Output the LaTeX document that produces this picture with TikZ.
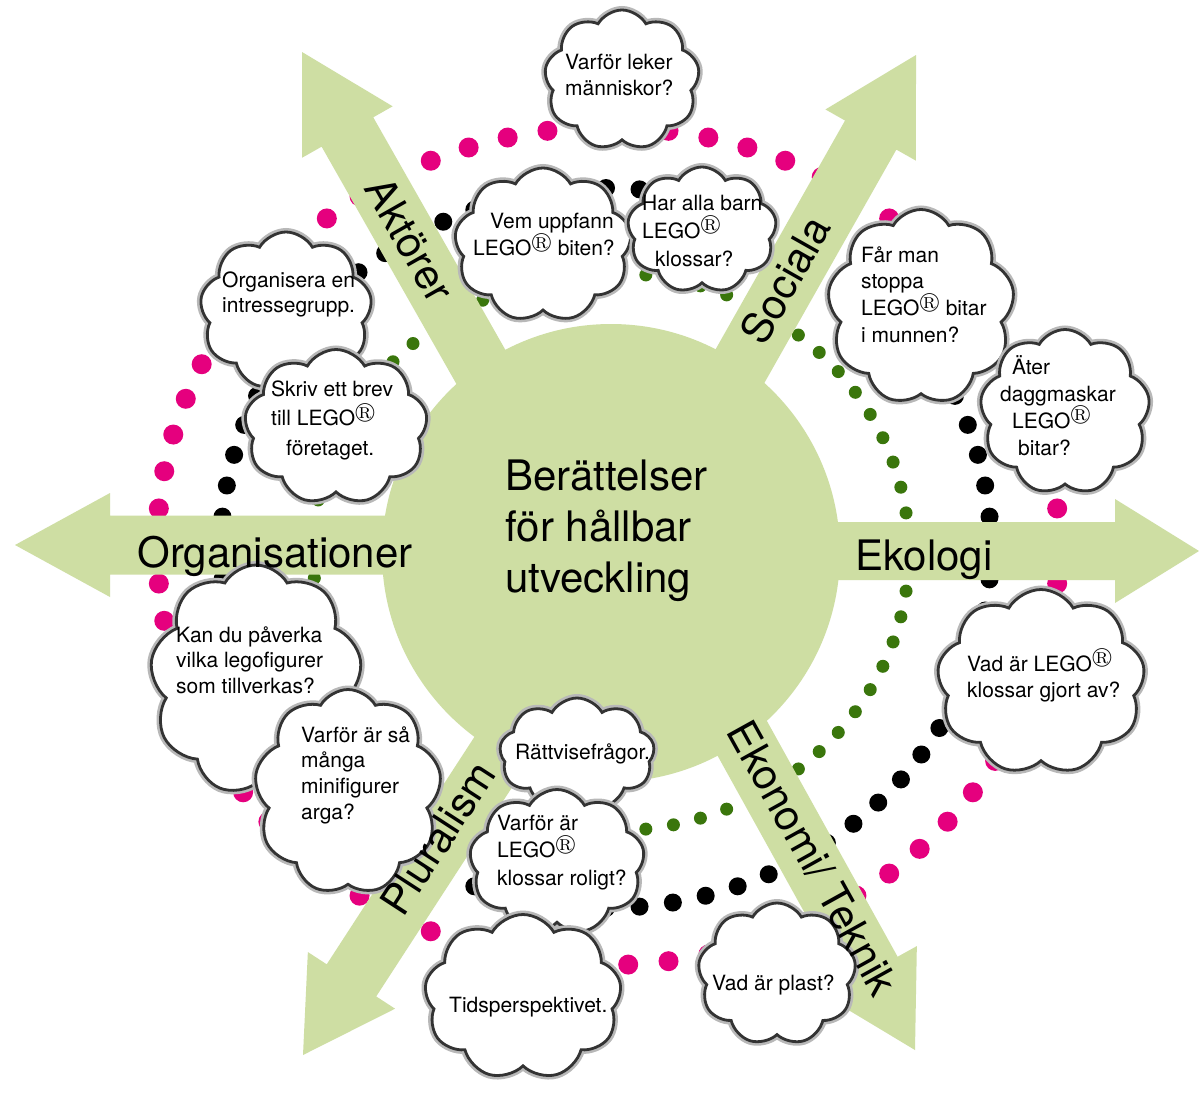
\documentclass[tikz,border=0pt]{standalone}
\usepackage{fontspec}
\setmainfont{TeX Gyre Heros}
\usepackage{amssymb}
\usetikzlibrary{shapes.symbols,shadows}
\definecolor{leaf}{RGB}{206,222,163}
\definecolor{pinkdot}{RGB}{229,0,126}
\definecolor{greendot}{RGB}{58,118,12}
\newcommand{\lego}{LEGO$^{\circledR}$}
\newcommand{\greenarrow}[7]{%
  \fill[leaf, shift={(#1,#2)}, rotate=#3] (0,0) -- (-#4,#5) -- (-#4,#6) -- (-#7,#6)
    -- (-#7,-#6) -- (-#4,-#6) -- (-#4,-#5) -- cycle;}
\begin{document}
\begin{tikzpicture}[x=1pt,y=-1pt,
  cloudbox/.style={cloud, cloud puffs=9, cloud puff arc=120, cloud ignores aspect,
    inner sep=0pt, fill=white, draw=black!80, line width=2.8pt,
    general shadow={shadow xshift=-1.5pt, shadow yshift=-3pt, fill=black!55},
    preaction={draw=black!28, line width=8pt}},
  qtext/.style={font=\fontsize{21}{26}\selectfont, align=left, inner sep=0pt, anchor=north west},
  lbl/.style={font=\fontsize{42}{50}\selectfont, inner sep=0pt},
  hubtext/.style={font=\fontsize{42}{51}\selectfont, align=left, inner sep=0pt, anchor=north west}]
\useasboundingbox (0,0) rectangle (1199,1093);
\fill[white] (0,0) rectangle (1199,1093);
% dotted rings
\foreach \i in {0,...,69}
  \fill[pinkdot] ({608+451*cos(5.142857*\i)},{546+419*sin(5.142857*\i)}) circle[radius=10pt];
\foreach \i in {0,...,71}
  \fill[black] ({606+385*cos(5*\i)},{548+360*sin(5*\i)}) circle[radius=9pt];
\foreach \i in {0,...,66}
  \fill[greendot] ({611+298*cos(5.373134*(\i+0.5))},{552+279*sin(5.373134*(\i+0.5))}) circle[radius=6.5pt];
% arrows and hub
\greenarrow{15}{545}{180}{95}{52}{29.5}{500}
\greenarrow{1199}{551}{0}{84}{52}{29}{500}
\greenarrow{302}{52}{119.6}{92}{52}{29.7}{450}
\greenarrow{916}{55}{60.5}{92}{52}{29.5}{450}
\greenarrow{303}{1055}{237}{89}{52}{29.5}{450}
\greenarrow{915}{1050}{-61}{90}{52}{30}{450}
\node[circle, fill=leaf, minimum size=458pt, inner sep=0pt] (hub) at (611,553) {};
% clouds
\node[cloudbox, minimum width=155pt, minimum height=140pt] (c1) at (622,80) {};
\node[cloudbox, minimum width=177pt, minimum height=154pt] (c2) at (543,245) {};
\node[cloudbox, minimum width=149pt, minimum height=126pt] (c3) at (702,230) {};
\node[cloudbox, minimum width=172pt, minimum height=158pt] (c4) at (286,311) {};
\node[cloudbox, minimum width=183pt, minimum height=155pt] (c5) at (336,427) {};
\node[cloudbox, minimum width=187pt, minimum height=195pt] (c6) at (921,307) {};
\node[cloudbox, minimum width=170pt, minimum height=165pt] (c7) at (1065,412) {};
\node[cloudbox, minimum width=208pt, minimum height=185pt] (c8) at (1041,682) {};
\node[cloudbox, minimum width=212pt, minimum height=230pt] (c9) at (256,680) {};
\node[cloudbox, minimum width=187pt, minimum height=205pt] (c10) at (348,792) {};
\node[cloudbox, minimum width=155pt, minimum height=112pt] (c11) at (577,754) {};
\node[cloudbox, minimum width=175pt, minimum height=145pt] (c12) at (557,862) {};
\node[cloudbox, minimum width=197pt, minimum height=165pt] (c13) at (523,997) {};
\node[cloudbox, minimum width=158pt, minimum height=142pt] (c14) at (777,974) {};
% cloud texts
\node[qtext] (q1) at (565,49) {\rule{0pt}{20pt}Varför leker\\människor?};
\node[qtext] (q2) at (473,208) {\rule{0pt}{20pt}\hspace*{17pt}Vem uppfann\\\lego{} biten?};
\node[qtext, font=\fontsize{21}{28}\selectfont] (q3) at (642,190) {\rule{0pt}{20pt}Har alla barn\\\lego\\\hspace*{13pt}klossar?};
\node[qtext, font=\fontsize{21}{25}\selectfont] (q4) at (222,267) {\rule{0pt}{20pt}Organisera en\\intressegrupp.};
\node[qtext, font=\fontsize{21}{29.5}\selectfont] (q5) at (271,376) {\rule{0pt}{20pt}Skriv ett brev\\till \lego\\\hspace*{15pt}företaget.};
\node[qtext, font=\fontsize{21}{26.7}\selectfont] (q6) at (861,242) {\rule{0pt}{20pt}Får man\\stoppa\\\lego{} bitar\\i munnen?};
\node[qtext, font=\fontsize{21}{27}\selectfont] (q7) at (1000,354) {\rule{0pt}{20pt}\hspace*{12pt}Äter\\daggmaskar\\\hspace*{12pt}\lego\\\hspace*{18pt}bitar?};
\node[qtext] (q8) at (967,649) {\rule{0pt}{20pt}Vad är \lego\\klossar gjort av?};
\node[qtext, font=\fontsize{21}{25.5}\selectfont] (q9) at (176,622) {\rule{0pt}{20pt}Kan du påverka\\vilka legofigurer\\som tillverkas?};
\node[qtext, font=\fontsize{21}{25.7}\selectfont] (q10) at (301,722) {\rule{0pt}{20pt}Varför är så\\många\\minifigurer\\arga?};
\node[qtext] (q11) at (515,739) {\rule{0pt}{20pt}Rättvisefrågor.};
\node[qtext, font=\fontsize{21}{27.5}\selectfont] (q12) at (497,810) {\rule{0pt}{20pt}Varför är\\\lego\\klossar roligt?};
\node[qtext] (q13) at (449,992) {\rule{0pt}{20pt}Tidsperspektivet.};
\node[qtext] (q14) at (712,970) {\rule{0pt}{20pt}Vad är plast?};
% arrow labels
\node[lbl, anchor=base] (lorg) at (275,567) {Organisationer};
\node[lbl, anchor=base] (leko) at (924,570) {Ekologi};
\node[lbl, rotate=-60.4] (lakt) at (410,240) {Aktörer};
\node[lbl, rotate=60.5] (lsoc) at (785,280) {Sociala};
\node[lbl, rotate=57] (lplu) at (438,838) {Pluralism};
\node[lbl, rotate=-61] (lekn) at (813,858) {Ekonomi/ Teknik};
% centre text
\node[hubtext] (htext) at (505,450) {\rule{0pt}{40pt}Berättelser\\för hållbar\\utveckling};
\end{tikzpicture}
\end{document}
